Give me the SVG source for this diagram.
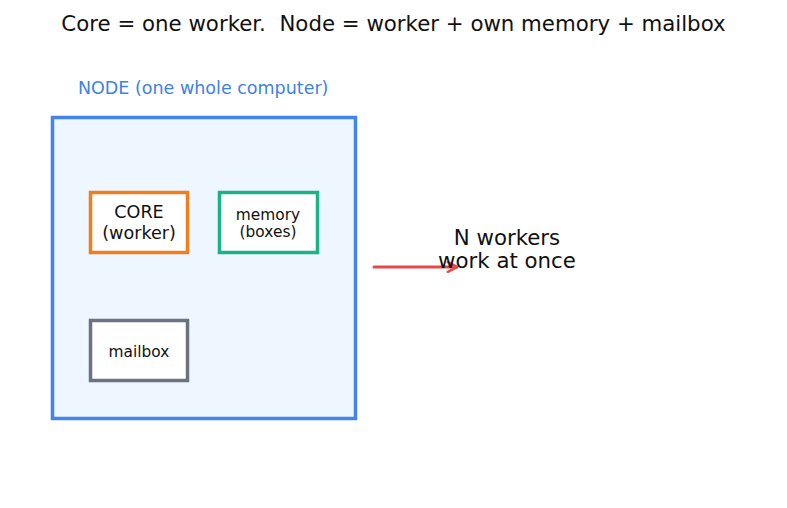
<svg xmlns="http://www.w3.org/2000/svg" width="787" height="508" viewBox="0 0 787 508">
<defs>
<style>
text{font-family:"DejaVu Sans",sans-serif;fill:#111}
.box{fill:#fff;stroke-width:3.5}
</style>
<marker id="ah" viewBox="0 0 12 12" refX="10.5" refY="6" markerWidth="4.3" markerHeight="4.3" orient="auto" markerUnits="strokeWidth"><path d="M2,1.5 L10.5,6 L2,10.5" fill="none" stroke="#e5484d" stroke-width="2.4" stroke-linecap="round" stroke-linejoin="round"/></marker>
</defs>
<rect width="787" height="508" fill="#fff"/>
<text x="393.5" y="31" font-size="21.3" text-anchor="middle" xml:space="preserve">Core = one worker.  Node = worker + own memory + mailbox</text>
<g id="node">
<text x="78" y="94" font-size="17.5" style="fill:#3d82e8">NODE (one whole computer)</text>
<rect x="52.5" y="117.5" width="303" height="301" fill="#eef6ff" stroke="#4385ea" stroke-width="3.5"/>
</g>
<g id="core">
<rect class="box" x="90.5" y="192.5" width="97" height="60" stroke="#f07d1e"/>
<text x="139" y="218" font-size="17.6" text-anchor="middle">CORE</text>
<text x="139" y="239" font-size="17.6" text-anchor="middle">(worker)</text>
</g>
<g id="memory">
<rect class="box" x="219.5" y="192.5" width="98" height="60" stroke="#1bb386"/>
<text x="268" y="219.5" font-size="15.4" text-anchor="middle">memory</text>
<text x="268" y="236.5" font-size="15.4" text-anchor="middle">(boxes)</text>
</g>
<g id="mailbox">
<rect class="box" x="90.5" y="320.5" width="97" height="60" stroke="#6b7280"/>
<text x="139" y="356.5" font-size="15.4" text-anchor="middle">mailbox</text>
</g>
<g id="connectors">
<line x1="374" y1="267" x2="457" y2="267" stroke="#e5484d" stroke-width="3" stroke-linecap="round" marker-end="url(#ah)"/>
</g>
<g id="label">
<text x="507" y="245" font-size="21.3" text-anchor="middle">N workers</text>
<text x="507" y="268" font-size="21.3" text-anchor="middle">work at once</text>
</g>
</svg>
